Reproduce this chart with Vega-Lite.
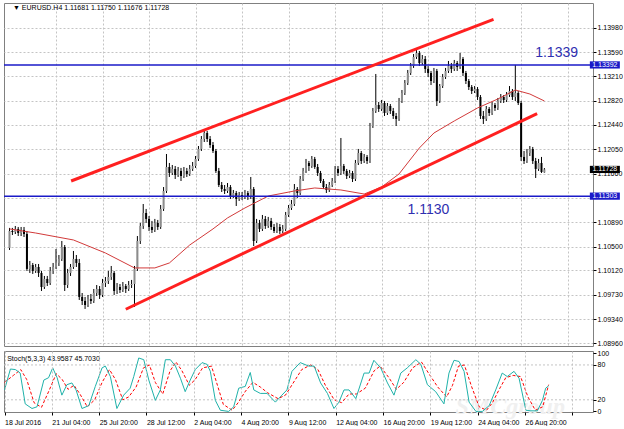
{
  "$schema": "https://vega.github.io/schema/vega-lite/v6.json",
  "background": "white",
  "padding": {"left": 2, "top": 2, "right": 0, "bottom": 0},
  "spacing": 1,
  "config": {
    "view": {"stroke": "#808080", "strokeWidth": 1},
    "axis": {"labelFont": "Liberation Sans", "labelFontSize": 7, "labelColor": "#000000", "tickColor": "#000000", "domain": false, "title": null, "labelOverlap": false},
    "text": {"font": "Liberation Sans"}
  },
  "datasets": {
    "candles": [
      {"i":0,"o":1.10478,"h":1.10797,"l":1.10446,"c":1.10748},
      {"i":1,"o":1.10748,"h":1.10797,"l":1.10684,"c":1.10732},
      {"i":2,"o":1.10732,"h":1.10828,"l":1.10700,"c":1.10781},
      {"i":3,"o":1.10781,"h":1.10812,"l":1.10668,"c":1.10716},
      {"i":4,"o":1.10716,"h":1.10812,"l":1.10668,"c":1.10765},
      {"i":5,"o":1.10765,"h":1.10812,"l":1.10652,"c":1.10700},
      {"i":6,"o":1.10700,"h":1.10748,"l":1.10112,"c":1.10144},
      {"i":7,"o":1.10144,"h":1.10271,"l":1.10080,"c":1.10207},
      {"i":8,"o":1.10207,"h":1.10239,"l":1.10064,"c":1.10112},
      {"i":9,"o":1.10112,"h":1.10223,"l":1.10080,"c":1.10175},
      {"i":10,"o":1.10175,"h":1.10223,"l":1.10016,"c":1.10080},
      {"i":11,"o":1.10080,"h":1.10112,"l":1.09793,"c":1.09856},
      {"i":12,"o":1.09856,"h":1.10032,"l":1.09825,"c":1.09985},
      {"i":13,"o":1.09985,"h":1.10032,"l":1.09872,"c":1.09920},
      {"i":14,"o":1.09920,"h":1.10175,"l":1.09888,"c":1.10112},
      {"i":15,"o":1.10112,"h":1.10239,"l":1.10064,"c":1.10175},
      {"i":16,"o":1.10175,"h":1.10462,"l":1.10144,"c":1.10239},
      {"i":17,"o":1.10239,"h":1.10366,"l":1.10191,"c":1.10303},
      {"i":18,"o":1.10303,"h":1.10589,"l":1.10271,"c":1.10493},
      {"i":19,"o":1.10493,"h":1.10525,"l":1.09793,"c":1.09888},
      {"i":20,"o":1.09888,"h":1.10144,"l":1.09841,"c":1.10080},
      {"i":21,"o":1.10080,"h":1.10223,"l":1.10032,"c":1.10175},
      {"i":22,"o":1.10175,"h":1.10430,"l":1.10144,"c":1.10303},
      {"i":23,"o":1.10303,"h":1.10366,"l":1.10175,"c":1.10239},
      {"i":24,"o":1.10239,"h":1.10303,"l":1.09650,"c":1.09698},
      {"i":25,"o":1.09698,"h":1.09761,"l":1.09570,"c":1.09634},
      {"i":26,"o":1.09634,"h":1.09698,"l":1.09507,"c":1.09570},
      {"i":27,"o":1.09570,"h":1.09729,"l":1.09538,"c":1.09666},
      {"i":28,"o":1.09666,"h":1.09745,"l":1.09586,"c":1.09634},
      {"i":29,"o":1.09634,"h":1.09825,"l":1.09602,"c":1.09761},
      {"i":30,"o":1.09761,"h":1.09888,"l":1.09713,"c":1.09825},
      {"i":31,"o":1.09825,"h":1.09872,"l":1.09666,"c":1.09729},
      {"i":32,"o":1.09729,"h":1.09985,"l":1.09698,"c":1.09920},
      {"i":33,"o":1.09920,"h":1.10016,"l":1.09856,"c":1.09952},
      {"i":34,"o":1.09952,"h":1.10112,"l":1.09904,"c":1.10016},
      {"i":35,"o":1.10016,"h":1.10191,"l":1.09969,"c":1.10080},
      {"i":36,"o":1.10080,"h":1.10112,"l":1.09729,"c":1.09793},
      {"i":37,"o":1.09793,"h":1.09920,"l":1.09745,"c":1.09856},
      {"i":38,"o":1.09856,"h":1.09904,"l":1.09761,"c":1.09809},
      {"i":39,"o":1.09809,"h":1.09936,"l":1.09777,"c":1.09872},
      {"i":40,"o":1.09872,"h":1.09904,"l":1.09761,"c":1.09825},
      {"i":41,"o":1.09825,"h":1.09952,"l":1.09793,"c":1.09888},
      {"i":42,"o":1.09888,"h":1.09969,"l":1.09841,"c":1.09904},
      {"i":43,"o":1.09904,"h":1.10191,"l":1.09538,"c":1.10144},
      {"i":44,"o":1.10144,"h":1.10668,"l":1.10112,"c":1.10589},
      {"i":45,"o":1.10589,"h":1.10876,"l":1.10541,"c":1.10828},
      {"i":46,"o":1.10828,"h":1.11178,"l":1.10781,"c":1.11035},
      {"i":47,"o":1.11035,"h":1.11099,"l":1.10876,"c":1.10940},
      {"i":48,"o":1.10940,"h":1.10987,"l":1.10748,"c":1.10812},
      {"i":49,"o":1.10812,"h":1.10908,"l":1.10716,"c":1.10765},
      {"i":50,"o":1.10765,"h":1.10940,"l":1.10732,"c":1.10876},
      {"i":51,"o":1.10876,"h":1.10924,"l":1.10765,"c":1.10812},
      {"i":52,"o":1.10812,"h":1.11162,"l":1.10781,"c":1.11099},
      {"i":53,"o":1.11099,"h":1.11448,"l":1.11067,"c":1.11385},
      {"i":54,"o":1.11385,"h":1.11974,"l":1.11353,"c":1.11767},
      {"i":55,"o":1.11767,"h":1.11831,"l":1.11608,"c":1.11672},
      {"i":56,"o":1.11672,"h":1.11799,"l":1.11640,"c":1.11736},
      {"i":57,"o":1.11736,"h":1.11783,"l":1.11576,"c":1.11640},
      {"i":58,"o":1.11640,"h":1.11767,"l":1.11608,"c":1.11704},
      {"i":59,"o":1.11704,"h":1.11752,"l":1.11544,"c":1.11624},
      {"i":60,"o":1.11624,"h":1.11767,"l":1.11592,"c":1.11704},
      {"i":61,"o":1.11704,"h":1.11752,"l":1.11608,"c":1.11656},
      {"i":62,"o":1.11656,"h":1.11799,"l":1.11624,"c":1.11736},
      {"i":63,"o":1.11736,"h":1.11847,"l":1.11704,"c":1.11783},
      {"i":64,"o":1.11783,"h":1.11942,"l":1.11752,"c":1.11895},
      {"i":65,"o":1.11895,"h":1.12101,"l":1.11863,"c":1.12054},
      {"i":66,"o":1.12054,"h":1.12260,"l":1.12022,"c":1.12213},
      {"i":67,"o":1.12213,"h":1.12372,"l":1.12165,"c":1.12308},
      {"i":68,"o":1.12308,"h":1.12340,"l":1.12165,"c":1.12213},
      {"i":69,"o":1.12213,"h":1.12260,"l":1.12070,"c":1.12117},
      {"i":70,"o":1.12117,"h":1.12165,"l":1.11990,"c":1.12022},
      {"i":71,"o":1.12022,"h":1.12054,"l":1.11672,"c":1.11704},
      {"i":72,"o":1.11704,"h":1.11752,"l":1.11448,"c":1.11480},
      {"i":73,"o":1.11480,"h":1.11528,"l":1.11369,"c":1.11417},
      {"i":74,"o":1.11417,"h":1.11480,"l":1.11337,"c":1.11385},
      {"i":75,"o":1.11385,"h":1.11512,"l":1.11353,"c":1.11448},
      {"i":76,"o":1.11448,"h":1.11480,"l":1.11258,"c":1.11305},
      {"i":77,"o":1.11305,"h":1.11401,"l":1.11274,"c":1.11353},
      {"i":78,"o":1.11353,"h":1.11385,"l":1.11146,"c":1.11258},
      {"i":79,"o":1.11258,"h":1.11369,"l":1.11226,"c":1.11321},
      {"i":80,"o":1.11321,"h":1.11369,"l":1.11242,"c":1.11289},
      {"i":81,"o":1.11289,"h":1.11401,"l":1.11258,"c":1.11353},
      {"i":82,"o":1.11353,"h":1.11385,"l":1.11242,"c":1.11289},
      {"i":83,"o":1.11289,"h":1.11608,"l":1.11258,"c":1.11417},
      {"i":84,"o":1.11417,"h":1.11448,"l":1.10509,"c":1.10589},
      {"i":85,"o":1.10589,"h":1.10940,"l":1.10557,"c":1.10876},
      {"i":86,"o":1.10876,"h":1.10924,"l":1.10732,"c":1.10781},
      {"i":87,"o":1.10781,"h":1.11003,"l":1.10748,"c":1.10940},
      {"i":88,"o":1.10940,"h":1.10987,"l":1.10781,"c":1.10828},
      {"i":89,"o":1.10828,"h":1.10972,"l":1.10797,"c":1.10908},
      {"i":90,"o":1.10908,"h":1.10956,"l":1.10765,"c":1.10812},
      {"i":91,"o":1.10812,"h":1.10860,"l":1.10716,"c":1.10748},
      {"i":92,"o":1.10748,"h":1.10876,"l":1.10716,"c":1.10812},
      {"i":93,"o":1.10812,"h":1.10860,"l":1.10700,"c":1.10748},
      {"i":94,"o":1.10748,"h":1.10844,"l":1.10716,"c":1.10781},
      {"i":95,"o":1.10781,"h":1.11051,"l":1.10748,"c":1.11003},
      {"i":96,"o":1.11003,"h":1.11162,"l":1.10972,"c":1.11115},
      {"i":97,"o":1.11115,"h":1.11242,"l":1.11083,"c":1.11178},
      {"i":98,"o":1.11178,"h":1.11496,"l":1.11146,"c":1.11417},
      {"i":99,"o":1.11417,"h":1.11448,"l":1.11274,"c":1.11353},
      {"i":100,"o":1.11353,"h":1.11624,"l":1.11321,"c":1.11576},
      {"i":101,"o":1.11576,"h":1.11752,"l":1.11544,"c":1.11704},
      {"i":102,"o":1.11704,"h":1.11895,"l":1.11672,"c":1.11831},
      {"i":103,"o":1.11831,"h":1.11863,"l":1.11704,"c":1.11783},
      {"i":104,"o":1.11783,"h":1.11942,"l":1.11752,"c":1.11895},
      {"i":105,"o":1.11895,"h":1.11927,"l":1.11736,"c":1.11767},
      {"i":106,"o":1.11767,"h":1.11815,"l":1.11624,"c":1.11672},
      {"i":107,"o":1.11672,"h":1.11704,"l":1.11512,"c":1.11544},
      {"i":108,"o":1.11544,"h":1.11576,"l":1.11417,"c":1.11448},
      {"i":109,"o":1.11448,"h":1.11496,"l":1.11353,"c":1.11401},
      {"i":110,"o":1.11401,"h":1.11528,"l":1.11369,"c":1.11480},
      {"i":111,"o":1.11480,"h":1.11592,"l":1.11448,"c":1.11544},
      {"i":112,"o":1.11544,"h":1.11783,"l":1.11512,"c":1.11736},
      {"i":113,"o":1.11736,"h":1.11783,"l":1.11624,"c":1.11672},
      {"i":114,"o":1.11672,"h":1.12229,"l":1.11640,"c":1.11783},
      {"i":115,"o":1.11783,"h":1.11815,"l":1.11656,"c":1.11704},
      {"i":116,"o":1.11704,"h":1.11736,"l":1.11576,"c":1.11624},
      {"i":117,"o":1.11624,"h":1.11720,"l":1.11592,"c":1.11672},
      {"i":118,"o":1.11672,"h":1.11704,"l":1.11528,"c":1.11576},
      {"i":119,"o":1.11576,"h":1.11879,"l":1.11544,"c":1.11831},
      {"i":120,"o":1.11831,"h":1.12054,"l":1.11799,"c":1.11990},
      {"i":121,"o":1.11990,"h":1.12022,"l":1.11815,"c":1.11863},
      {"i":122,"o":1.11863,"h":1.11974,"l":1.11831,"c":1.11927},
      {"i":123,"o":1.11927,"h":1.11958,"l":1.11815,"c":1.11863},
      {"i":124,"o":1.11863,"h":1.12468,"l":1.11831,"c":1.12420},
      {"i":125,"o":1.12420,"h":1.12707,"l":1.12389,"c":1.12659},
      {"i":126,"o":1.12659,"h":1.13248,"l":1.12627,"c":1.12754},
      {"i":127,"o":1.12754,"h":1.12802,"l":1.12643,"c":1.12691},
      {"i":128,"o":1.12691,"h":1.12834,"l":1.12659,"c":1.12786},
      {"i":129,"o":1.12786,"h":1.12818,"l":1.12579,"c":1.12627},
      {"i":130,"o":1.12627,"h":1.12786,"l":1.12595,"c":1.12738},
      {"i":131,"o":1.12738,"h":1.12770,"l":1.12611,"c":1.12659},
      {"i":132,"o":1.12659,"h":1.12707,"l":1.12532,"c":1.12579},
      {"i":133,"o":1.12579,"h":1.12627,"l":1.12420,"c":1.12532},
      {"i":134,"o":1.12532,"h":1.12866,"l":1.12500,"c":1.12818},
      {"i":135,"o":1.12818,"h":1.12993,"l":1.12786,"c":1.12945},
      {"i":136,"o":1.12945,"h":1.13152,"l":1.12913,"c":1.13104},
      {"i":137,"o":1.13104,"h":1.13312,"l":1.13072,"c":1.13264},
      {"i":138,"o":1.13264,"h":1.13423,"l":1.13232,"c":1.13375},
      {"i":139,"o":1.13375,"h":1.13566,"l":1.13344,"c":1.13518},
      {"i":140,"o":1.13518,"h":1.13662,"l":1.13487,"c":1.13582},
      {"i":141,"o":1.13582,"h":1.13614,"l":1.13375,"c":1.13423},
      {"i":142,"o":1.13423,"h":1.13550,"l":1.13391,"c":1.13487},
      {"i":143,"o":1.13487,"h":1.13534,"l":1.13264,"c":1.13328},
      {"i":144,"o":1.13328,"h":1.13375,"l":1.13200,"c":1.13264},
      {"i":145,"o":1.13264,"h":1.13296,"l":1.13072,"c":1.13136},
      {"i":146,"o":1.13136,"h":1.13344,"l":1.13104,"c":1.13296},
      {"i":147,"o":1.13296,"h":1.13328,"l":1.12738,"c":1.12818},
      {"i":148,"o":1.12818,"h":1.13088,"l":1.12786,"c":1.13056},
      {"i":149,"o":1.13056,"h":1.13248,"l":1.13025,"c":1.13200},
      {"i":150,"o":1.13200,"h":1.13344,"l":1.13168,"c":1.13296},
      {"i":151,"o":1.13296,"h":1.13455,"l":1.13264,"c":1.13375},
      {"i":152,"o":1.13375,"h":1.13423,"l":1.13264,"c":1.13328},
      {"i":153,"o":1.13328,"h":1.13471,"l":1.13296,"c":1.13423},
      {"i":154,"o":1.13423,"h":1.13455,"l":1.13296,"c":1.13359},
      {"i":155,"o":1.13359,"h":1.13582,"l":1.13328,"c":1.13487},
      {"i":156,"o":1.13487,"h":1.13518,"l":1.13216,"c":1.13264},
      {"i":157,"o":1.13264,"h":1.13296,"l":1.13088,"c":1.13136},
      {"i":158,"o":1.13136,"h":1.13168,"l":1.12993,"c":1.13040},
      {"i":159,"o":1.13040,"h":1.13072,"l":1.12929,"c":1.12977},
      {"i":160,"o":1.12977,"h":1.13056,"l":1.12945,"c":1.13009},
      {"i":161,"o":1.13009,"h":1.13040,"l":1.12834,"c":1.12882},
      {"i":162,"o":1.12882,"h":1.12913,"l":1.12532,"c":1.12579},
      {"i":163,"o":1.12579,"h":1.12659,"l":1.12452,"c":1.12532},
      {"i":164,"o":1.12532,"h":1.12738,"l":1.12500,"c":1.12691},
      {"i":165,"o":1.12691,"h":1.12722,"l":1.12579,"c":1.12627},
      {"i":166,"o":1.12627,"h":1.12802,"l":1.12595,"c":1.12754},
      {"i":167,"o":1.12754,"h":1.12786,"l":1.12659,"c":1.12707},
      {"i":168,"o":1.12707,"h":1.12866,"l":1.12675,"c":1.12818},
      {"i":169,"o":1.12818,"h":1.12929,"l":1.12786,"c":1.12882},
      {"i":170,"o":1.12882,"h":1.12913,"l":1.12786,"c":1.12834},
      {"i":171,"o":1.12834,"h":1.12961,"l":1.12802,"c":1.12913},
      {"i":172,"o":1.12913,"h":1.13056,"l":1.12882,"c":1.12977},
      {"i":173,"o":1.12977,"h":1.13009,"l":1.12834,"c":1.12882},
      {"i":174,"o":1.12882,"h":1.13392,"l":1.12818,"c":1.12945},
      {"i":175,"o":1.12945,"h":1.12977,"l":1.12754,"c":1.12786},
      {"i":176,"o":1.12786,"h":1.12818,"l":1.11863,"c":1.11927},
      {"i":177,"o":1.11927,"h":1.12022,"l":1.11815,"c":1.11863},
      {"i":178,"o":1.11863,"h":1.12054,"l":1.11831,"c":1.11990},
      {"i":179,"o":1.11990,"h":1.12101,"l":1.11942,"c":1.12054},
      {"i":180,"o":1.12054,"h":1.12086,"l":1.11815,"c":1.11863},
      {"i":181,"o":1.11863,"h":1.11911,"l":1.11592,"c":1.11736},
      {"i":182,"o":1.11736,"h":1.11895,"l":1.11704,"c":1.11831},
      {"i":183,"o":1.11831,"h":1.11927,"l":1.11672,"c":1.11688},
      {"i":184,"o":1.11681,"h":1.11750,"l":1.11676,"c":1.11728}
    ],
    "ma": [
      {"i":0,"p":1.10781},{"i":9,"p":1.10716},{"i":22,"p":1.10605},{"i":33,"p":1.10398},
      {"i":43,"p":1.10160},{"i":50,"p":1.10160},{"i":55,"p":1.10239},{"i":62,"p":1.10525},
      {"i":70,"p":1.10781},{"i":75,"p":1.10956},{"i":81,"p":1.11115},{"i":89,"p":1.11305},
      {"i":98,"p":1.11385},{"i":105,"p":1.11433},{"i":114,"p":1.11401},{"i":122,"p":1.11337},
      {"i":128,"p":1.11448},{"i":134,"p":1.11656},{"i":141,"p":1.12070},{"i":146,"p":1.12308},
      {"i":153,"p":1.12500},{"i":161,"p":1.12707},{"i":168,"p":1.12850},{"i":174,"p":1.12993},
      {"i":179,"p":1.12929},{"i":184,"p":1.12818}
    ],
    "trend": [
      {"id":"upper","i":21.2,"p":1.11544},{"id":"upper","i":166.5,"p":1.14118},
      {"id":"lower","i":40.0,"p":1.09502},{"id":"lower","i":181.5,"p":1.12616}
    ],
    "levels": [{"level":1.13392},{"level":1.11303}],
    "notes": [{"t":"1.1339","i":188.2,"p":1.13587},{"t":"1.1130","i":144.1,"p":1.11078}],
    "tags": [{"p":1.13392,"kind":"level"},{"p":1.11728,"kind":"price"},{"p":1.11303,"kind":"level"}],
    "head": [{"t":"▼ EURUSD.H4  1.11681 1.11750 1.11676 1.11728","i":1.2,"p":1.14299}],
    "stoch": [
      {"i":0,"v":37},{"i":2,"v":73},{"i":3.7,"v":72},{"i":5.3,"v":66},{"i":7,"v":13},{"i":9.3,"v":5},
      {"i":11,"v":8},{"i":13.3,"v":54},{"i":14.9,"v":58},{"i":16.3,"v":75},{"i":17.8,"v":58},{"i":19.4,"v":28},
      {"i":21.1,"v":46},{"i":22.8,"v":49},{"i":24.2,"v":37},{"i":26.2,"v":5},{"i":28.5,"v":10},{"i":30.7,"v":43},
      {"i":33,"v":75},{"i":34.1,"v":78},{"i":35.8,"v":60},{"i":38,"v":5},{"i":40.3,"v":28},{"i":42.5,"v":40},
      {"i":43.7,"v":60},{"i":45.4,"v":92},{"i":47.1,"v":89},{"i":48.8,"v":54},{"i":51,"v":19},{"i":52.7,"v":37},
      {"i":54.4,"v":89},{"i":56.1,"v":89},{"i":57.8,"v":78},{"i":59.5,"v":57},{"i":61.1,"v":34},{"i":62.8,"v":54},
      {"i":64.5,"v":72},{"i":66.8,"v":84},{"i":68.5,"v":81},{"i":69.6,"v":69},{"i":71.3,"v":19},{"i":73,"v":2},
      {"i":75.8,"v":0},{"i":77.5,"v":8},{"i":79.2,"v":40},{"i":81.4,"v":43},{"i":83.1,"v":67},{"i":84.3,"v":37},
      {"i":86.5,"v":31},{"i":88.8,"v":31},{"i":91.6,"v":16},{"i":93.8,"v":28},{"i":95.5,"v":37},{"i":97.2,"v":69},
      {"i":100,"v":84},{"i":102.9,"v":78},{"i":104.7,"v":78},{"i":106.9,"v":49},{"i":109.2,"v":31},{"i":111.4,"v":5},
      {"i":113.1,"v":16},{"i":114.8,"v":37},{"i":116.5,"v":37},{"i":118.8,"v":22},{"i":121.6,"v":66},{"i":123.3,"v":66},
      {"i":124.9,"v":88},{"i":127.2,"v":75},{"i":129.5,"v":49},{"i":131.7,"v":28},{"i":134,"v":66},{"i":136.2,"v":75},
      {"i":139.1,"v":89},{"i":140.8,"v":81},{"i":143,"v":46},{"i":145.8,"v":34},{"i":148.6,"v":13},{"i":150.3,"v":66},
      {"i":152,"v":88},{"i":153.7,"v":86},{"i":155.4,"v":69},{"i":157.1,"v":16},{"i":159.4,"v":0},{"i":161.6,"v":0},
      {"i":163.9,"v":10},{"i":166.1,"v":37},{"i":168.3,"v":66},{"i":170,"v":60},{"i":172.3,"v":69},{"i":174,"v":57},
      {"i":176.3,"v":2},{"i":178,"v":1},{"i":180.2,"v":1},{"i":181.9,"v":19},{"i":183,"v":40},{"i":184,"v":44}
    ],
    "signal": [
      {"i":0,"v":50},{"i":3,"v":62},{"i":5.5,"v":72},{"i":7.5,"v":55},{"i":10,"v":15},{"i":12.5,"v":7},
      {"i":15,"v":35},{"i":17.5,"v":65},{"i":19.5,"v":55},{"i":21.5,"v":38},{"i":23.5,"v":45},{"i":25.5,"v":30},
      {"i":28,"v":8},{"i":30.5,"v":20},{"i":33,"v":50},{"i":35.5,"v":72},{"i":37.5,"v":55},{"i":40,"v":20},
      {"i":42,"v":25},{"i":44.5,"v":42},{"i":47,"v":75},{"i":49,"v":80},{"i":51,"v":50},{"i":53.5,"v":30},
      {"i":56,"v":70},{"i":58,"v":85},{"i":60,"v":70},{"i":62.5,"v":45},{"i":64.5,"v":55},{"i":67,"v":75},
      {"i":70,"v":78},{"i":72,"v":45},{"i":74,"v":12},{"i":77,"v":2},{"i":79,"v":15},{"i":81.5,"v":35},
      {"i":84,"v":50},{"i":86.5,"v":42},{"i":89,"v":32},{"i":92.5,"v":22},{"i":95,"v":28},{"i":97.5,"v":48},
      {"i":100.5,"v":72},{"i":103.5,"v":80},{"i":106,"v":72},{"i":108.5,"v":45},{"i":111.5,"v":20},{"i":114,"v":15},
      {"i":116.5,"v":30},{"i":119,"v":30},{"i":122,"v":40},{"i":125,"v":70},{"i":127,"v":78},{"i":130,"v":58},
      {"i":132.5,"v":38},{"i":135,"v":50},{"i":138,"v":75},{"i":141,"v":85},{"i":143.5,"v":65},{"i":146.5,"v":42},
      {"i":149.5,"v":25},{"i":151.5,"v":45},{"i":153.5,"v":78},{"i":155.5,"v":80},{"i":158,"v":42},{"i":160.5,"v":8},
      {"i":163,"v":2},{"i":165,"v":15},{"i":167.5,"v":40},{"i":169.5,"v":58},{"i":172,"v":62},{"i":174.5,"v":60},
      {"i":177,"v":25},{"i":179.5,"v":2},{"i":182,"v":8},{"i":184,"v":46}
    ],
    "stochLevels": [{"lvl":20},{"lvl":80}],
    "stochHead": [{"t":"Stoch(5,3,3) 43.9587 45.7030","i":0.9,"v":90}],
    "mark": [{"t":"SMCgroup","i":171,"v":8}]
  },
  "vconcat": [
    {
      "width": 589,
      "height": 343,
      "layer": [
        {
          "data": {"name": "candles"},
          "mark": {"type": "rule", "color": "#000000", "strokeWidth": 1, "clip": true},
          "encoding": {
            "x": {"field": "i", "type": "quantitative", "scale": {"domain": [-0.17, 199], "nice": false, "zero": false},
              "axis": {"values": [16,32,48,64,80,96,112,128,144,160,176,192], "tickCount": 30, "grid": true, "gridDash": [2,2], "gridColor": "#c4c4c4", "labels": false, "ticks": false}},
            "y": {"field": "l", "type": "quantitative", "scale": {"domain": [1.08917, 1.14378], "nice": false, "zero": false},
              "axis": {"orient": "right", "values": [1.0896,1.0934,1.0973,1.1012,1.105,1.1089,1.1128,1.1166,1.1205,1.1244,1.1282,1.1321,1.1359,1.1398], "tickCount": 30,
                "labelExpr": "abs(datum.value - 1.1128) < 0.00001 ? '' : format(datum.value, '.5f')",
                "grid": true, "gridDash": [2,2], "gridColor": "#c4c4c4", "tickSize": 3, "labelPadding": 1, "labelBaseline": "middle", "labelOverlap": false}},
            "y2": {"field": "h"}
          }
        },
        {
          "data": {"name": "candles"},
          "mark": {"type": "bar", "size": 2, "clip": true},
          "encoding": {
            "x": {"field": "i", "type": "quantitative"},
            "y": {"field": "o", "type": "quantitative"},
            "y2": {"field": "c"},
            "color": {"condition": {"test": "datum.c >= datum.o", "value": "#8c8c8c"}, "value": "#000000"}
          }
        },
        {
          "data": {"name": "ma"},
          "mark": {"type": "line", "color": "#d23a3a", "strokeWidth": 1, "clip": true},
          "encoding": {
            "x": {"field": "i", "type": "quantitative"},
            "y": {"field": "p", "type": "quantitative"}
          }
        },
        {
          "data": {"name": "levels"},
          "mark": {"type": "rule", "color": "#1a1ac8", "strokeWidth": 1.5},
          "encoding": {"y": {"field": "level", "type": "quantitative"}}
        },
        {
          "data": {"name": "trend"},
          "mark": {"type": "line", "color": "#ff2020", "strokeWidth": 3, "strokeCap": "butt", "clip": true},
          "encoding": {
            "x": {"field": "i", "type": "quantitative"},
            "y": {"field": "p", "type": "quantitative"},
            "detail": {"field": "id"}
          }
        },
        {
          "data": {"name": "notes"},
          "mark": {"type": "text", "fontSize": 14, "color": "#2f2fb0", "align": "center", "baseline": "middle"},
          "encoding": {
            "x": {"field": "i", "type": "quantitative"},
            "y": {"field": "p", "type": "quantitative"},
            "text": {"field": "t"}
          }
        },
        {
          "data": {"name": "head"},
          "mark": {"type": "text", "fontSize": 7, "color": "#000000", "align": "left", "baseline": "middle"},
          "encoding": {
            "x": {"field": "i", "type": "quantitative"},
            "y": {"field": "p", "type": "quantitative"},
            "text": {"field": "t"}
          }
        },
        {
          "data": {"name": "tags"},
          "mark": {"type": "point", "shape": "M-1,-0.24H1V0.24H-1Z", "size": 900, "filled": true, "opacity": 1, "clip": false},
          "encoding": {
            "x": {"datum": 204.8},
            "y": {"field": "p", "type": "quantitative"},
            "color": {"field": "kind", "type": "nominal", "scale": {"domain": ["level", "price"], "range": ["#1a1ac8", "#000000"]}, "legend": null}
          }
        },
        {
          "data": {"name": "tags"},
          "mark": {"type": "text", "fontSize": 7, "color": "#ffffff", "align": "center", "baseline": "middle", "clip": false},
          "encoding": {
            "x": {"datum": 204.8},
            "y": {"field": "p", "type": "quantitative"},
            "text": {"field": "p", "type": "quantitative", "format": ".5f"}
          }
        }
      ]
    },
    {
      "width": 589,
      "height": 61,
      "layer": [
        {
          "data": {"name": "mark"},
          "mark": {"type": "text", "font": "Liberation Serif", "fontSize": 24, "fontStyle": "italic", "fontWeight": "bold", "color": "#f0f0f0", "align": "center", "baseline": "middle", "clip": false},
          "encoding": {
            "x": {"field": "i", "type": "quantitative", "scale": {"domain": [-0.17, 199], "nice": false, "zero": false},
              "axis": {"values": [0,16,32,48,64,80,96,112,128,144,160,176,192], "tickCount": 30, "zindex": 1,
                "labelExpr": "['18 Jul 2016','21 Jul 04:00','25 Jul 20:00','28 Jul 12:00','2 Aug 04:00','4 Aug 20:00','9 Aug 12:00','12 Aug 04:00','16 Aug 20:00','19 Aug 12:00','24 Aug 04:00','26 Aug 20:00',''][round(datum.value / 16)]",
                "labelAlign": "left", "labelFlush": false, "labelOverlap": false, "labelBound": false, "labelPadding": 3, "tickSize": 3,
                "grid": true, "gridDash": [2,2], "gridColor": "#c4c4c4"}},
            "y": {"field": "v", "type": "quantitative", "scale": {"domain": [-1, 104], "nice": false, "zero": false},
              "axis": {"orient": "right", "values": [0, 20, 80, 100], "tickCount": 10, "format": "d", "grid": false, "tickSize": 3, "labelPadding": 1, "labelBaseline": "middle", "labelOverlap": false}},
            "text": {"field": "t"}
          }
        },
        {
          "data": {"name": "stochLevels"},
          "mark": {"type": "rule", "color": "#c4c4c4", "strokeDash": [2,2], "strokeWidth": 1},
          "encoding": {"y": {"field": "lvl", "type": "quantitative"}}
        },
        {
          "data": {"name": "signal"},
          "mark": {"type": "line", "color": "#ff0000", "strokeWidth": 1, "strokeDash": [3,2]},
          "encoding": {
            "x": {"field": "i", "type": "quantitative"},
            "y": {"field": "v", "type": "quantitative"}
          }
        },
        {
          "data": {"name": "stoch"},
          "mark": {"type": "line", "color": "#20b2aa", "strokeWidth": 1},
          "encoding": {
            "x": {"field": "i", "type": "quantitative"},
            "y": {"field": "v", "type": "quantitative"}
          }
        },
        {
          "data": {"name": "stochHead"},
          "mark": {"type": "text", "fontSize": 7, "color": "#000000", "align": "left", "baseline": "middle"},
          "encoding": {
            "x": {"field": "i", "type": "quantitative"},
            "y": {"field": "v", "type": "quantitative"},
            "text": {"field": "t"}
          }
        }
      ]
    }
  ]
}
